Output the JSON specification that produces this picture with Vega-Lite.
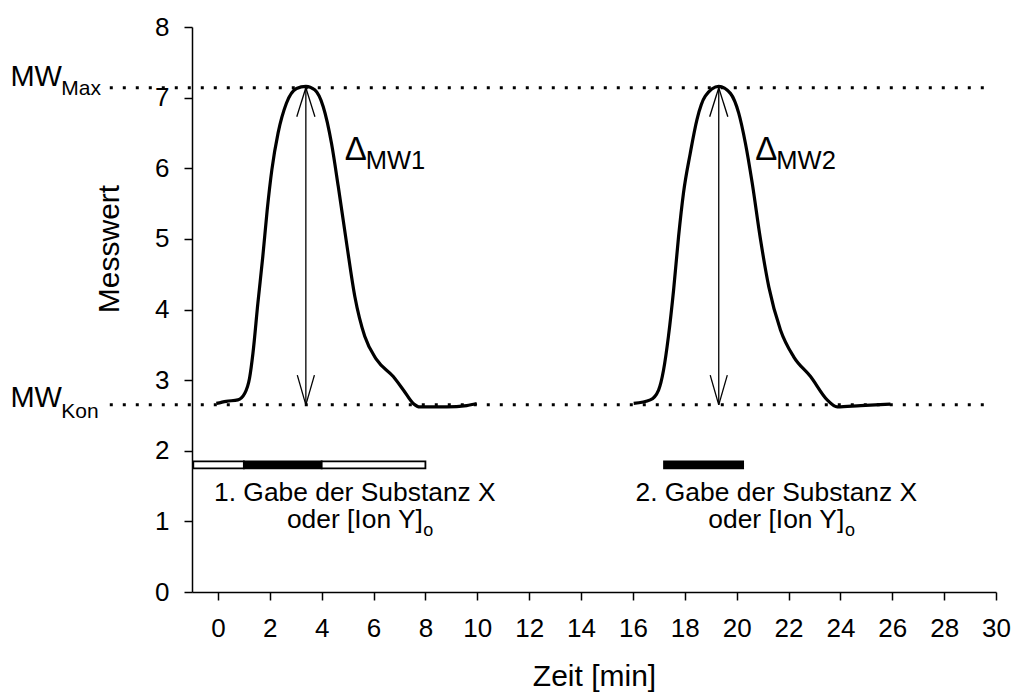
{
  "$schema": "https://vega.github.io/schema/vega-lite/v6.json",
  "width": 804,
  "height": 565,
  "autosize": {"type": "none"},
  "padding": {"left": 192, "top": 27, "right": 21, "bottom": 100},
  "background": "white",
  "config": {
    "view": {"stroke": null},
    "font": "Liberation Sans",
    "axis": {
      "domainColor": "black", "domainWidth": 1.5,
      "tickColor": "black", "tickWidth": 1.5, "tickSize": 8,
      "labelColor": "black", "labelFontSize": 26, "labelFont": "Liberation Sans",
      "titleFont": "Liberation Sans", "titleFontSize": 30, "titleFontWeight": "normal", "titleColor": "black",
      "grid": false
    }
  },
  "encoding": {
    "x": {
      "field": "x", "type": "quantitative",
      "scale": {"domain": [-1, 30], "nice": false, "zero": false},
      "axis": {
        "values": [0, 2, 4, 6, 8, 10, 12, 14, 16, 18, 20, 22, 24, 26, 28, 30],
        "labelPadding": 15, "labelFlush": false, "labelOverlap": false,
        "title": "Zeit [min]", "titleY": 93, "titleBaseline": "alphabetic"
      }
    },
    "y": {
      "field": "y", "type": "quantitative",
      "scale": {"domain": [0, 8], "nice": false, "zero": false},
      "axis": {
        "values": [0, 1, 2, 3, 4, 5, 6, 7, 8],
        "labelPadding": 15, "labelFlush": false, "labelOverlap": false,
        "title": "Messwert", "titleAngle": -90, "titleX": -74, "titleY": 221.5,
        "titleBaseline": "alphabetic", "titleAlign": "center"
      }
    }
  },
  "layer": [
    {
      "data": {"values": [
        {"x": -4.17, "x2": 29.64, "y": 7.14},
        {"x": -4.17, "x2": 29.64, "y": 2.65}
      ]},
      "mark": {"type": "rule", "color": "black", "strokeWidth": 3, "strokeDash": [3, 10]},
      "encoding": {"x2": {"field": "x2"}}
    },
    {
      "data": {"values": [
        {"s": 1, "x": -0.06, "y": 2.67}, {"s": 1, "x": 0.32, "y": 2.70}, {"s": 1, "x": 0.77, "y": 2.72},
        {"s": 1, "x": 1.03, "y": 2.81}, {"s": 1, "x": 1.22, "y": 3.03}, {"s": 1, "x": 1.35, "y": 3.38},
        {"s": 1, "x": 1.54, "y": 4.09}, {"s": 1, "x": 1.73, "y": 4.75}, {"s": 1, "x": 1.90, "y": 5.41},
        {"s": 1, "x": 2.08, "y": 5.98}, {"s": 1, "x": 2.32, "y": 6.50}, {"s": 1, "x": 2.64, "y": 6.92},
        {"s": 1, "x": 3.03, "y": 7.13}, {"s": 1, "x": 3.39, "y": 7.16}, {"s": 1, "x": 3.73, "y": 7.11},
        {"s": 1, "x": 4.06, "y": 6.87}, {"s": 1, "x": 4.38, "y": 6.35}, {"s": 1, "x": 4.64, "y": 5.74},
        {"s": 1, "x": 4.96, "y": 4.94}, {"s": 1, "x": 5.28, "y": 4.18}, {"s": 1, "x": 5.66, "y": 3.62},
        {"s": 1, "x": 6.12, "y": 3.29}, {"s": 1, "x": 6.76, "y": 3.05}, {"s": 1, "x": 7.15, "y": 2.86},
        {"s": 1, "x": 7.53, "y": 2.67}, {"s": 1, "x": 7.79, "y": 2.62}, {"s": 1, "x": 8.82, "y": 2.62},
        {"s": 1, "x": 9.59, "y": 2.64}, {"s": 1, "x": 9.98, "y": 2.67},
        {"s": 2, "x": 16.03, "y": 2.67}, {"s": 2, "x": 16.67, "y": 2.72}, {"s": 2, "x": 16.99, "y": 2.86},
        {"s": 2, "x": 17.18, "y": 3.14}, {"s": 2, "x": 17.37, "y": 3.62}, {"s": 2, "x": 17.57, "y": 4.28},
        {"s": 2, "x": 17.76, "y": 5.03}, {"s": 2, "x": 17.95, "y": 5.65}, {"s": 2, "x": 18.21, "y": 6.21},
        {"s": 2, "x": 18.47, "y": 6.69}, {"s": 2, "x": 18.79, "y": 7.02}, {"s": 2, "x": 19.31, "y": 7.16},
        {"s": 2, "x": 19.76, "y": 7.06}, {"s": 2, "x": 20.08, "y": 6.78}, {"s": 2, "x": 20.34, "y": 6.35},
        {"s": 2, "x": 20.60, "y": 5.79}, {"s": 2, "x": 20.92, "y": 4.99}, {"s": 2, "x": 21.24, "y": 4.32},
        {"s": 2, "x": 21.69, "y": 3.71}, {"s": 2, "x": 22.20, "y": 3.33}, {"s": 2, "x": 22.85, "y": 3.05},
        {"s": 2, "x": 23.49, "y": 2.72}, {"s": 2, "x": 23.88, "y": 2.62}, {"s": 2, "x": 24.78, "y": 2.64},
        {"s": 2, "x": 25.93, "y": 2.66}
      ]},
      "mark": {"type": "line", "color": "black", "strokeWidth": 3.2, "interpolate": "monotone"},
      "encoding": {"detail": {"field": "s", "type": "nominal"}}
    },
    {
      "data": {"values": [
        {"x": 3.39, "y": 2.65, "x2": 3.39, "y2": 7.14},
        {"x": 3.39, "y": 7.14, "x2": 3.04, "y2": 6.73},
        {"x": 3.39, "y": 7.14, "x2": 3.74, "y2": 6.73},
        {"x": 3.39, "y": 2.65, "x2": 3.06, "y2": 3.07},
        {"x": 3.39, "y": 2.65, "x2": 3.72, "y2": 3.07},
        {"x": 19.31, "y": 2.65, "x2": 19.31, "y2": 7.14},
        {"x": 19.31, "y": 7.14, "x2": 18.96, "y2": 6.73},
        {"x": 19.31, "y": 7.14, "x2": 19.66, "y2": 6.73},
        {"x": 19.31, "y": 2.65, "x2": 18.98, "y2": 3.07},
        {"x": 19.31, "y": 2.65, "x2": 19.64, "y2": 3.07}
      ]},
      "mark": {"type": "rule", "color": "black", "strokeWidth": 1.3},
      "encoding": {"x2": {"field": "x2"}, "y2": {"field": "y2"}}
    },
    {
      "data": {"values": [
        {"x": -0.95, "x2": 1.0, "y": 1.75, "y2": 1.85, "kind": "leer"},
        {"x": 1.0, "x2": 4.0, "y": 1.75, "y2": 1.85, "kind": "Gabe"},
        {"x": 4.0, "x2": 8.0, "y": 1.75, "y2": 1.85, "kind": "leer"},
        {"x": 17.2, "x2": 20.25, "y": 1.75, "y2": 1.85, "kind": "Gabe"}
      ]},
      "mark": {"type": "rect", "stroke": "black", "strokeWidth": 1.8},
      "encoding": {
        "x2": {"field": "x2"}, "y2": {"field": "y2"},
        "fill": {"field": "kind", "type": "nominal", "scale": {"domain": ["leer", "Gabe"], "range": ["#ffffff", "#000000"]}, "legend": null}
      }
    },
    {
      "data": {"values": [
        {"x": 5.28, "y": 1.285, "t": "1. Gabe der Substanz X"},
        {"x": 5.28, "y": 0.9, "t": "oder [Ion Y]"},
        {"x": 21.53, "y": 1.29, "t": "2. Gabe der Substanz X"},
        {"x": 21.53, "y": 0.9, "t": "oder [Ion Y]"}
      ]},
      "mark": {"type": "text", "fontSize": 26.4, "align": "center", "baseline": "alphabetic", "color": "black"},
      "encoding": {"text": {"field": "t"}}
    },
    {
      "data": {"values": [
        {"x": 7.92, "y": 0.8, "t": "o"},
        {"x": 24.18, "y": 0.8, "t": "o"}
      ]},
      "mark": {"type": "text", "fontSize": 18, "align": "left", "baseline": "alphabetic", "color": "black"},
      "encoding": {"text": {"field": "t"}}
    },
    {
      "data": {"values": [
        {"x": -8.0, "y": 7.167, "t": "MW"},
        {"x": -8.0, "y": 2.62, "t": "MW"}
      ]},
      "mark": {"type": "text", "fontSize": 29, "align": "left", "baseline": "alphabetic", "color": "black"},
      "encoding": {"text": {"field": "t"}}
    },
    {
      "data": {"values": [
        {"x": -6.04, "y": 7.04, "t": "Max"},
        {"x": -6.04, "y": 2.465, "t": "Kon"}
      ]},
      "mark": {"type": "text", "fontSize": 21, "align": "left", "baseline": "alphabetic", "color": "black"},
      "encoding": {"text": {"field": "t"}}
    },
    {
      "data": {"values": [
        {"x": 4.89, "y": 6.12, "t": "Δ"},
        {"x": 20.72, "y": 6.12, "t": "Δ"}
      ]},
      "mark": {"type": "text", "fontSize": 33, "align": "left", "baseline": "alphabetic", "color": "black"},
      "encoding": {"text": {"field": "t"}}
    },
    {
      "data": {"values": [
        {"x": 5.7, "y": 5.99, "t": "MW1"},
        {"x": 21.53, "y": 5.99, "t": "MW2"}
      ]},
      "mark": {"type": "text", "fontSize": 25.5, "align": "left", "baseline": "alphabetic", "color": "black"},
      "encoding": {"text": {"field": "t"}}
    }
  ]
}
